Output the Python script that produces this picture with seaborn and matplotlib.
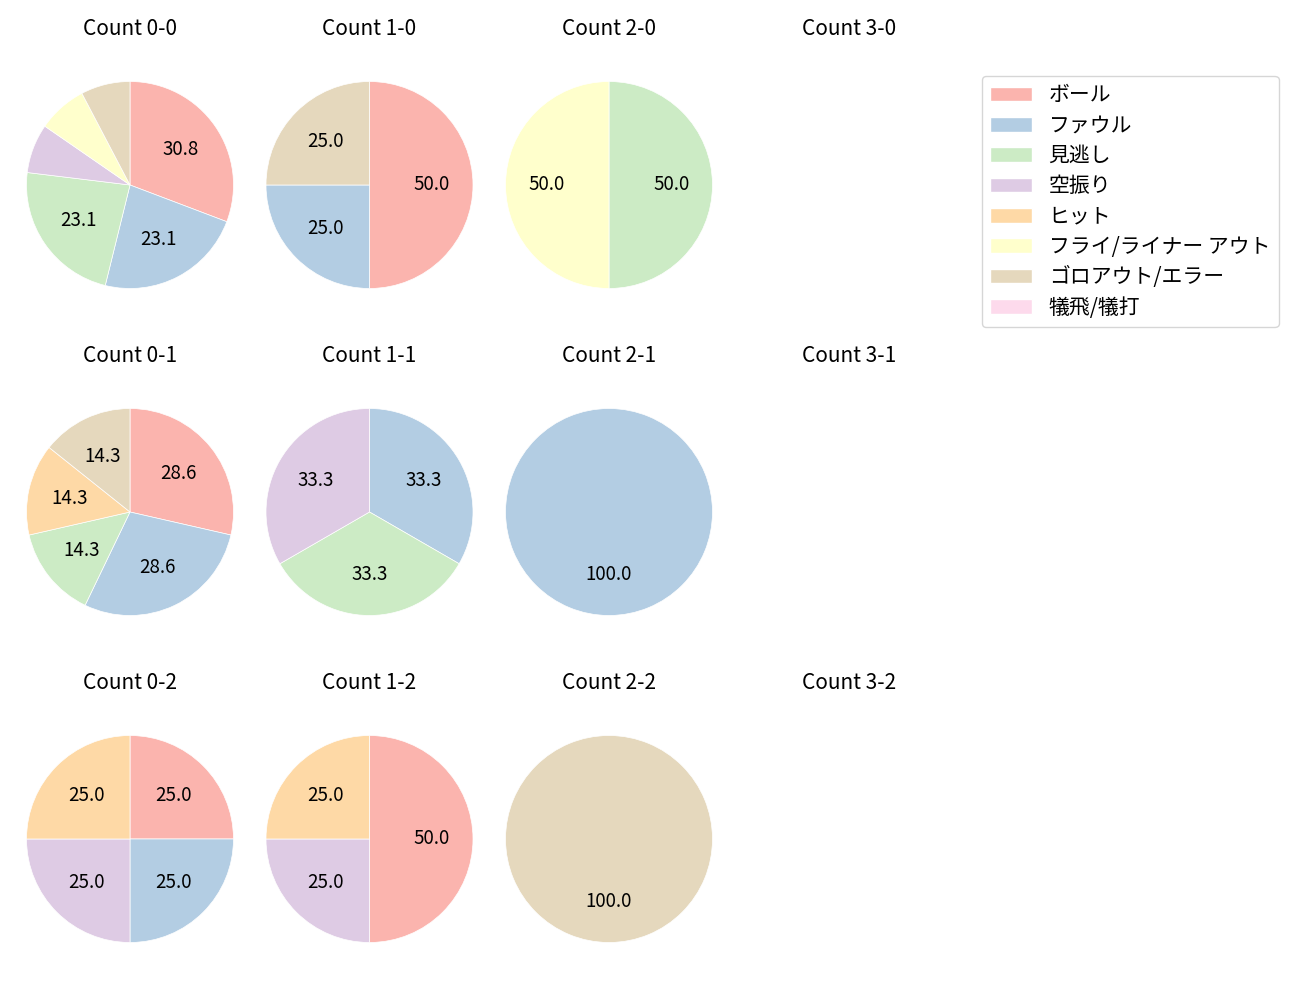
import matplotlib
matplotlib.use("Agg")
import matplotlib.pyplot as plt
from matplotlib.patches import Patch
import seaborn as sns

sns.set_theme(style="white")
plt.rcParams['font.family'] = ['Noto Sans CJK JP', 'DejaVu Sans']
plt.rcParams['text.color'] = 'black'

categories = ["ボール", "ファウル", "見逃し", "空振り", "ヒット",
              "フライ/ライナー アウト", "ゴロアウト/エラー", "犠飛/犠打"]

# counts per category (same order as categories)
count_0_0 = [4, 3, 3, 1, 0, 1, 1, 0]
count_1_0 = [2, 1, 0, 0, 0, 0, 1, 0]
count_2_0 = [0, 0, 1, 0, 0, 1, 0, 0]
count_3_0 = []
count_0_1 = [2, 2, 1, 0, 1, 0, 1, 0]
count_1_1 = [0, 1, 1, 1, 0, 0, 0, 0]
count_2_1 = [0, 1, 0, 0, 0, 0, 0, 0]
count_3_1 = []
count_0_2 = [1, 1, 0, 1, 1, 0, 0, 0]
count_1_2 = [2, 0, 0, 1, 1, 0, 0, 0]
count_2_2 = [0, 0, 0, 0, 0, 0, 1, 0]
count_3_2 = []

grid = [
    [("0-0", count_0_0), ("1-0", count_1_0), ("2-0", count_2_0), ("3-0", count_3_0)],
    [("0-1", count_0_1), ("1-1", count_1_1), ("2-1", count_2_1), ("3-1", count_3_1)],
    [("0-2", count_0_2), ("1-2", count_1_2), ("2-2", count_2_2), ("3-2", count_3_2)],
]

colors = sns.color_palette("Pastel1", 9)[:8]

W, H = 1300, 1000
fig = plt.figure(figsize=(13, 10), dpi=100)

col_cx = [130, 369.5, 609, 849]
row_cy = [185, 512, 839]
R = 103.5
half_w = 115
half_h = 142

for r, row in enumerate(grid):
    for c, (name, vals) in enumerate(row):
        cx, cy = col_cx[c], row_cy[r]
        ax = fig.add_axes([(cx - half_w) / W, 1 - (cy + half_h) / H,
                           2 * half_w / W, 2 * half_h / H])
        ax.set_title(f"Count {name}", fontsize=15, color='black')
        ax.axis('off')
        if sum(vals) > 0:
            v = [x for x in vals if x > 0]
            cl = [colors[i] for i, x in enumerate(vals) if x > 0]
            ax.pie(v, colors=cl, startangle=90, counterclock=False,
                   autopct=lambda p: f"{p:.1f}" if p >= 10 else "",
                   wedgeprops={'linewidth': 0.5, 'edgecolor': 'white'},
                   textprops={'fontsize': 13.5, 'color': 'black'})
        ax.set_xlim(-half_w / R, half_w / R)
        ax.set_ylim(-half_h / R, half_h / R)
        ax.set_aspect('auto')

handles = [Patch(facecolor=colors[i], label=categories[i]) for i in range(8)]
leg = fig.legend(handles=handles, loc='upper left',
                 bbox_to_anchor=(982 / W, 1 - 76 / H), fontsize=15,
                 frameon=True, borderaxespad=0, labelspacing=0.4)
for t in leg.get_texts():
    t.set_color('black')

fig.savefig("out.png", dpi=100)
